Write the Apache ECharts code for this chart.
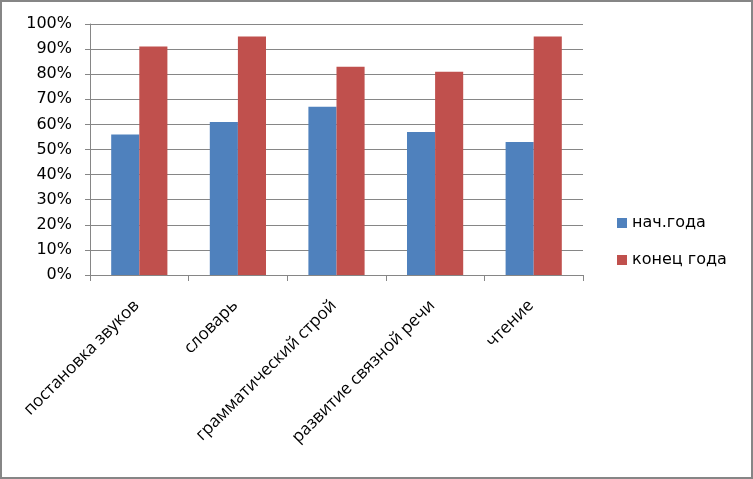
<!DOCTYPE html>
<html><head><meta charset="utf-8">
<script src="https://cdn.jsdelivr.net/npm/echarts@6/dist/echarts.min.js"></script>
<style>html,body{margin:0;padding:0;background:#fff}#c{width:753px;height:479px;box-sizing:border-box;border:2px solid #868686}</style>
</head><body><div id="c"></div>
<script>
const categories = ['постановка звуков','словарь','грамматический строй','развитие связной речи','чтение'];
const startYear = [56, 61, 67, 57, 53];
const endYear = [91, 95, 83, 81, 95];
const seriesNames = ['нач.года','конец года'];
const font = '"DejaVu Sans", "Open Sans", sans-serif';
const catFont = '"Open Sans", "DejaVu Sans", sans-serif';
const chart = echarts.init(document.getElementById('c'));
chart.setOption({
  animation: false,
  textStyle: {fontFamily: font},
  grid: {left: 88, top: 22, width: 493, height: 251, containLabel: false},
  legend: {
    orient: 'vertical', left: 610, top: 208, itemGap: 21,
    itemWidth: 10, itemHeight: 10, icon: 'rect',
    textStyle: {fontFamily: font, fontSize: 16, color: '#000'},
    data: seriesNames
  },
  xAxis: {
    type: 'category', data: categories,
    axisLine: {lineStyle: {color: '#868686', width: 1}},
    axisTick: {show: true, length: 6, lineStyle: {color: '#868686'}},
    axisLabel: {rotate: 45, interval: 0, fontSize: 17, color: '#000', fontFamily: catFont, margin: 25, padding: [0, 4, 0, 0]}
  },
  yAxis: {
    type: 'value', min: 0, max: 100, interval: 10,
    axisLine: {show: true, lineStyle: {color: '#868686'}},
    axisTick: {show: true, length: 5, lineStyle: {color: '#868686'}},
    splitLine: {lineStyle: {color: '#868686', width: 1}},
    axisLabel: {formatter: '{value}%', fontSize: 16, color: '#000', fontFamily: font, margin: 18}
  },
  series: [
    {name: seriesNames[0], type: 'bar', data: startYear, itemStyle: {color: '#4F81BD'}, barGap: '0%', barCategoryGap: '43%'},
    {name: seriesNames[1], type: 'bar', data: endYear, itemStyle: {color: '#C0504D'}, barGap: '0%', barCategoryGap: '43%'}
  ]
});
</script></body></html>
